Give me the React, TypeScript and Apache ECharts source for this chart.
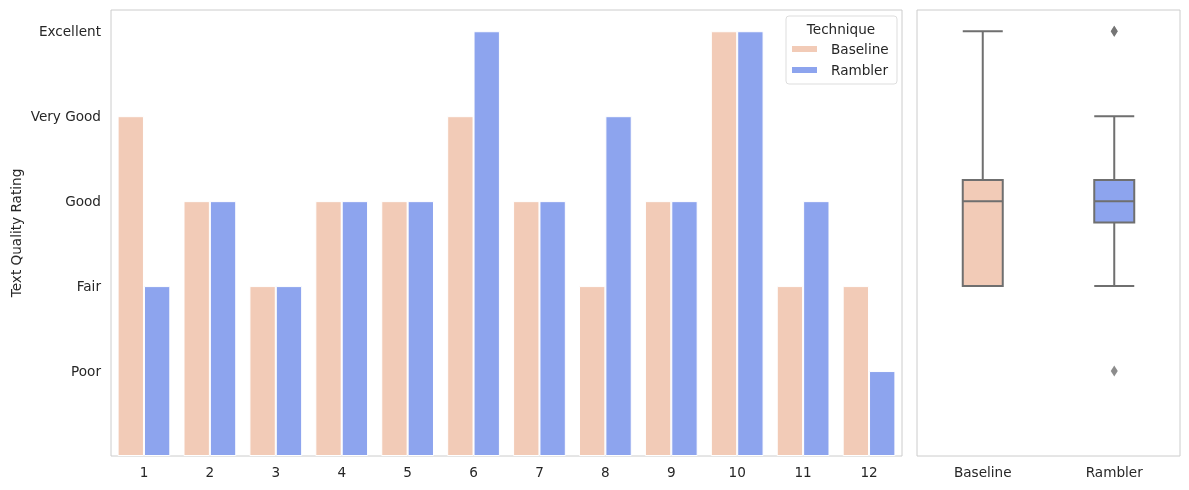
import React, { useEffect, useRef } from "react";
import * as echarts from "echarts";

const categories = ["1", "2", "3", "4", "5", "6", "7", "8", "9", "10", "11", "12"];
const baseline = [4, 3, 2, 3, 3, 4, 3, 2, 3, 5, 2, 2];
const rambler = [2, 3, 2, 3, 3, 5, 3, 4, 3, 5, 3, 1];
const ratingLabels = ["", "Poor", "Fair", "Good", "Very Good", "Excellent"];
const techniques = ["Baseline", "Rambler"];
const colors = ["#f2cbb7", "#8da4ee"];

function quantile(sorted: number[], p: number) {
  const pos = (sorted.length - 1) * p;
  const lo = Math.floor(pos);
  const hi = Math.ceil(pos);
  return sorted[lo] + (sorted[hi] - sorted[lo]) * (pos - lo);
}

function boxStats(vals: number[]) {
  const s = [...vals].sort((a, b) => a - b);
  const q1 = quantile(s, 0.25);
  const med = quantile(s, 0.5);
  const q3 = quantile(s, 0.75);
  const iqr = q3 - q1;
  const lf = q1 - 1.5 * iqr;
  const uf = q3 + 1.5 * iqr;
  const inside = s.filter((v) => v >= lf && v <= uf);
  const outliers = s.filter((v) => v < lf || v > uf);
  return { box: [Math.min(...inside), q1, med, q3, Math.max(...inside)], outliers };
}

export default function App() {
  const ref = useRef<HTMLDivElement>(null);
  useEffect(() => {
    const chart = echarts.init(ref.current!, undefined, { renderer: "svg" });
    const stats = [boxStats(baseline), boxStats(rambler)];
    const outlierData: [string, number][] = [];
    stats.forEach((st, i) => st.outliers.forEach((v) => outlierData.push([techniques[i], v])));
    const font = "DejaVu Sans";
    const fs = 13.6;
    chart.setOption({
      animation: false,
      textStyle: { fontFamily: font },
      grid: [
        { left: 111, top: 10, width: 791, height: 446, show: true, borderColor: "#cccccc", borderWidth: 1, containLabel: false, outerBoundsMode: "none" },
        { left: 917, top: 10, width: 263, height: 446, show: true, borderColor: "#cccccc", borderWidth: 1, containLabel: false, outerBoundsMode: "none" },
      ],
      xAxis: [
        {
          type: "category", gridIndex: 0, data: categories,
          axisLine: { show: false }, axisTick: { show: false },
          axisLabel: { color: "#262626", fontSize: fs, margin: 9 },
        },
        {
          type: "category", gridIndex: 1, data: techniques,
          axisLine: { show: false }, axisTick: { show: false },
          axisLabel: { color: "#262626", fontSize: fs, margin: 9 },
        },
      ],
      yAxis: [
        {
          type: "value", gridIndex: 0, min: 0, max: 5.25, interval: 1,
          axisLine: { show: false }, axisTick: { show: false }, splitLine: { show: false },
          axisLabel: {
            color: "#262626", fontSize: fs, margin: 10,
            formatter: (v: number) => (Number.isInteger(v) ? ratingLabels[v] || "" : ""),
          },
          name: "Text Quality Rating", nameLocation: "middle", nameGap: 88, nameMoveOverlap: false,
          nameTextStyle: { color: "#262626", fontSize: fs },
        },
        {
          type: "value", gridIndex: 1, min: 0, max: 5.25, interval: 1,
          axisLine: { show: false }, axisTick: { show: false }, splitLine: { show: false },
          axisLabel: { show: false },
        },
      ],
      legend: {
        orient: "vertical", left: 790, top: 42, padding: 0,
        itemWidth: 27, itemHeight: 8, itemGap: 7,
        data: techniques,
        textStyle: { color: "#262626", fontSize: fs, padding: [0, 0, 0, 8] },
        icon: "rect",
      },
      graphic: [
        { type: "rect", shape: { x: 786, y: 16, width: 111, height: 68, r: 3 }, style: { fill: "rgba(255,255,255,0.8)", stroke: "#dddddd", lineWidth: 1 }, z: 0 },
        { type: "text", x: 841, y: 29, style: { text: "Technique", fill: "#262626", font: `${fs}px ${font}`, textAlign: "center", textVerticalAlign: "middle" }, z: 10 },
      ],
      series: [
        {
          name: techniques[0], type: "bar", xAxisIndex: 0, yAxisIndex: 0, data: baseline,
          barGap: "0%", barCategoryGap: "20%",
          itemStyle: { color: colors[0], borderColor: "#ffffff", borderWidth: 1 },
        },
        {
          name: techniques[1], type: "bar", xAxisIndex: 0, yAxisIndex: 0, data: rambler,
          barGap: "0%", barCategoryGap: "20%",
          itemStyle: { color: colors[1], borderColor: "#ffffff", borderWidth: 1 },
        },
        {
          type: "boxplot", xAxisIndex: 1, yAxisIndex: 1, boxWidth: [40, 40],
          data: stats.map((st, i) => ({
            value: st.box,
            itemStyle: { color: colors[i], borderColor: "#6f6f6f", borderWidth: 2 },
          })),
        },
        {
          type: "scatter", xAxisIndex: 1, yAxisIndex: 1, data: outlierData,
          symbol: "diamond", symbolSize: [7, 11],
          itemStyle: { color: "#6f6f6f" },
        },
      ],
    });
    return () => chart.dispose();
  }, []);
  return <div ref={ref} style={{ position: "fixed", left: 0, top: 0, width: 1189, height: 490 }} />;
}
